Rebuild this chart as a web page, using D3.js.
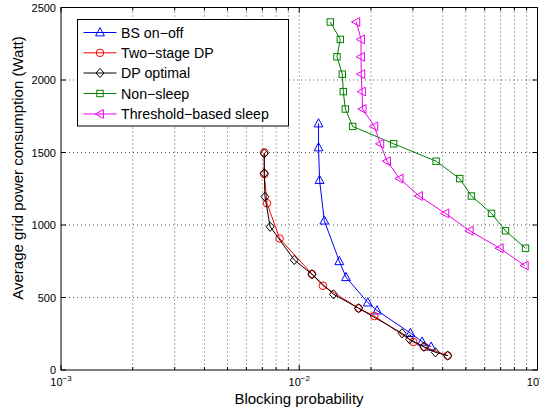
<!DOCTYPE html>
<html><head><meta charset="utf-8">
<script src="https://cdn.jsdelivr.net/npm/d3@7"></script>
<style>
html,body{margin:0;padding:0;background:#fff;}
svg{display:block;font-family:"Liberation Sans",Arial,sans-serif;}
</style></head>
<body><svg id="chart" width="540" height="412"></svg>
<script>
// ---- data ----
const seriesNames = ["BS on−off","Two−stage DP","DP optimal","Non−sleep","Threshold−based sleep"];
const seriesColors = ["#0000ff","#ff0000","#000000","#008000","#ee00ee"];
const seriesMarkers = ["tri-up","circle","diamond","square","tri-left"];

const bsX = [0.01205,0.01205,0.01217,0.01274,0.01473,0.01571,0.01940,0.02121,0.02927,0.03278,0.03577];
const bsY = [1700,1535,1310,1030,750,640,465,410,255,195,160];

const twoX = [0.00713,0.00713,0.00732,0.00827,0.01131,0.01257,0.01775,0.02066,0.03013,0.03350,0.04199];
const twoY = [1500,1352,1150,907,662,581,426,372,193,159,99];

const dpX = [0.00713,0.00713,0.00718,0.00755,0.00953,0.01131,0.01393,0.01775,0.02701,0.02907,0.03329,0.03727,0.04199];
const dpY = [1494,1357,1195,988,759,660,522,426,253,212,161,122,99];

const nsX = [0.01350,0.01487,0.01440,0.01516,0.01531,0.01561,0.01675,0.02490,0.03753,0.04716,0.05280,0.06410,0.07337,0.08904];
const nsY = [2400,2280,2160,2040,1920,1800,1680,1560,1440,1320,1200,1080,960,840];

const thX = [0.01736,0.01817,0.01817,0.01822,0.01834,0.01845,0.02066,0.02189,0.02336,0.02639,0.03184,0.04106,0.05194,0.06943,0.08843];
const thY = [2400,2280,2160,2040,1920,1800,1680,1560,1440,1320,1200,1080,960,840,720];

const yTicks = [0,500,1000,1500,2000,2500];
const xTickExps = [-3,-2,-1];
const xLabel = "Blocking probability";
const yLabel = "Average grid power consumption (Watt)";

// ---- layout ----
const svg = d3.select("#chart");
const L = 61, R = 537.5, T = 7.5, B = 370;
const x = d3.scaleLog().domain([1e-3,1e-1]).range([L,R]);
const y = d3.scaleLinear().domain([0,2500]).range([B,T]);

const series = [
  {xs:bsX, ys:bsY}, {xs:twoX, ys:twoY}, {xs:dpX, ys:dpY}, {xs:nsX, ys:nsY}, {xs:thX, ys:thY}
].map((s,i)=>({name:seriesNames[i], color:seriesColors[i], marker:seriesMarkers[i],
  pts:s.xs.map((v,j)=>[v,s.ys[j]])}));

// grid
const minorVals = [];
for (let e=-3;e<-1;e++) for (let m=1;m<10;m++) minorVals.push(m*Math.pow(10,e));
minorVals.push(1e-1);
const grid = svg.append("g").attr("stroke","#333").attr("stroke-width",0.8).attr("stroke-dasharray","1,3");
minorVals.filter(v=>v>1e-3 && v<1e-1).forEach(v=>{
  grid.append("line").attr("x1",x(v)).attr("x2",x(v)).attr("y1",T).attr("y2",B);
});
yTicks.filter(v=>v>0 && v<2500).forEach(v=>{
  grid.append("line").attr("x1",L).attr("x2",R).attr("y1",y(v)).attr("y2",y(v));
});

// axes ticks (inside, both sides)
const tk = svg.append("g").attr("stroke","#000").attr("stroke-width",1);
minorVals.forEach(v=>{
  const major = Math.abs(Math.log10(v) - Math.round(Math.log10(v)))<1e-9;
  const len = major?5:3;
  tk.append("line").attr("x1",x(v)).attr("x2",x(v)).attr("y1",B).attr("y2",B-len);
  tk.append("line").attr("x1",x(v)).attr("x2",x(v)).attr("y1",T).attr("y2",T+len);
});
yTicks.forEach(v=>{
  tk.append("line").attr("x1",L).attr("x2",L+5).attr("y1",y(v)).attr("y2",y(v));
  tk.append("line").attr("x1",R).attr("x2",R-5).attr("y1",y(v)).attr("y2",y(v));
});

// y tick labels
const yAxis = d3.axisLeft(y).tickValues(yTicks).tickSize(0).tickPadding(5).tickFormat(d3.format("d"));
const gy = svg.append("g").attr("transform",`translate(${L},0)`).call(yAxis);
gy.select(".domain").remove();
gy.selectAll("text").attr("font-size",11).attr("font-family","Liberation Sans, Arial, sans-serif").attr("fill","#000");

// x tick labels
const xl = svg.append("g");
xTickExps.forEach(e=>{
  const t = xl.append("text").attr("x",x(Math.pow(10,e))).attr("y",386)
    .attr("text-anchor","middle").attr("font-size",11).attr("fill","#000");
  t.append("tspan").text("10");
  t.append("tspan").attr("dy",-5).attr("font-size",8).text("−"+Math.abs(e));
});

// axis labels
svg.append("text").attr("x",299).attr("y",404).attr("text-anchor","middle")
  .attr("font-size",15).attr("fill","#000").text(xLabel);
svg.append("text").attr("transform",`translate(23,168) rotate(-90)`).attr("text-anchor","middle")
  .attr("font-size",15).attr("fill","#000").text(yLabel);

// marker drawer
function marker(g, type, cx, cy, color){
  let p;
  switch(type){
    case "circle": p = g.append("circle").attr("cx",cx).attr("cy",cy).attr("r",3.8); break;
    case "square": p = g.append("rect").attr("x",cx-3.2).attr("y",cy-3.2).attr("width",6.4).attr("height",6.4); break;
    case "diamond": p = g.append("path").attr("d",`M${cx},${cy-4.6}L${cx+4},${cy}L${cx},${cy+4.6}L${cx-4},${cy}Z`); break;
    case "tri-up": p = g.append("path").attr("d",`M${cx},${cy-4.8}L${cx+4.4},${cy+3.4}L${cx-4.4},${cy+3.4}Z`); break;
    case "tri-left": p = g.append("path").attr("d",`M${cx-4.8},${cy}L${cx+3.4},${cy-4.4}L${cx+3.4},${cy+4.4}Z`); break;
  }
  p.attr("fill","none").attr("stroke",color).attr("stroke-width",1);
}

const line = d3.line().x(d=>x(d[0])).y(d=>y(d[1]));
series.forEach(s=>{
  const g = svg.append("g");
  g.append("path").datum(s.pts).attr("d",line).attr("fill","none").attr("stroke",s.color).attr("stroke-width",1);
  s.pts.forEach(d=>marker(g, s.marker, x(d[0]), y(d[1]), s.color));
});

// frame
svg.append("rect").attr("x",L).attr("y",T).attr("width",R-L).attr("height",B-T)
  .attr("fill","none").attr("stroke","#000").attr("stroke-width",1);

// legend
const lg = svg.append("g");
lg.append("rect").attr("x",77.5).attr("y",19.5).attr("width",211).attr("height",106.5)
  .attr("fill","#fff").attr("stroke","#000").attr("stroke-width",1);
const rowY = [32.5,52.8,73,93.5,114];
series.forEach((s,i)=>{
  lg.append("line").attr("x1",83.5).attr("x2",116.5).attr("y1",rowY[i]).attr("y2",rowY[i])
    .attr("stroke",s.color).attr("stroke-width",1);
  marker(lg, s.marker, 100, rowY[i], s.color);
  lg.append("text").attr("x",121).attr("y",rowY[i]+5).attr("font-size",14.2).attr("fill","#000").text(s.name);
});
</script></body></html>
